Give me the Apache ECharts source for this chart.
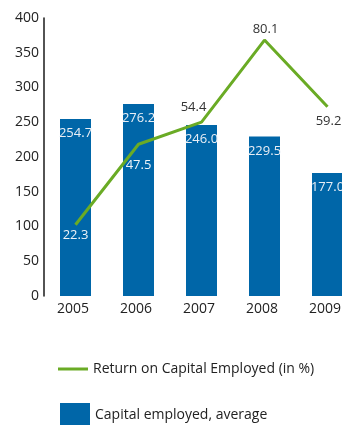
<!DOCTYPE html>
<html>
<head>
<meta charset="utf-8">
<script src="https://cdn.jsdelivr.net/npm/echarts@6/dist/echarts.min.js"></script>
<style>
  html, body { margin: 0; padding: 0; background: #fff; }
  #chart { width: 342px; height: 425px; }
</style>
</head>
<body>
<div id="chart"></div>
<script>
// Capital employed (bars, left axis) and ROCE in % (line, hidden right scale)
const years = ['2005', '2006', '2007', '2008', '2009'];
const capitalEmployed = [254.7, 276.2, 246.0, 229.5, 177.0];
const roce = [22.3, 47.5, 54.4, 80.1, 59.2];
const leftTicks = [0, 50, 100, 150, 200, 250, 300, 350, 400];

const FONT = '"Open Sans", "Noto Sans", sans-serif';
const BLUE = '#0066a8';
const GREEN = '#6aab25';

// label placement around each ROCE point
const roceLabelStyle = [
  { offset: [0, 11], color: '#eef3f8' },
  { offset: [0, 21], color: '#eef3f8' },
  { offset: [-8, -15], color: '#333' },
  { offset: [1, -11], color: '#333' },
  { offset: [1, 14], color: '#333' }
];

const chart = echarts.init(document.getElementById('chart'));
chart.setOption({
  animation: false,
  textStyle: { fontFamily: FONT },
  // plot area runs past the right edge, so the last bar is cut off
  grid: { left: 44, top: 18, width: 315, height: 278, containLabel: false, outerBoundsMode: 'none' },
  legend: [
    {
      data: [{ name: 'Return on Capital Employed (in %)', icon: 'rect' }],
      left: 58, top: 361, padding: 0, itemWidth: 30, itemHeight: 3, itemGap: 6,
      textStyle: { fontSize: 14, color: '#222', fontFamily: FONT, lineHeight: 16 }
    },
    {
      data: [{ name: 'Capital employed, average', icon: 'rect' }],
      left: 60, top: 401, padding: 0, itemWidth: 30, itemHeight: 24, itemGap: 6,
      textStyle: { fontSize: 14, color: '#222', fontFamily: FONT, lineHeight: 16, padding: [12, 0, 0, 0] }
    }
  ],
  xAxis: {
    type: 'category',
    data: years,
    axisLine: { show: false },
    axisTick: { show: false },
    axisLabel: { fontSize: 14, color: '#222', margin: 6, fontFamily: FONT, padding: [0, 5, 0, 0] }
  },
  yAxis: [
    {
      type: 'value',
      min: leftTicks[0],
      max: leftTicks[leftTicks.length - 1],
      interval: 50,
      axisLine: { show: true, lineStyle: { color: '#1a1a1a', width: 1.5 } },
      axisTick: { show: false },
      splitLine: { show: false },
      axisLabel: { fontSize: 14, color: '#222', margin: 5, fontFamily: FONT }
    },
    {
      type: 'value',
      min: 0,
      max: 87,
      show: false,
      splitLine: { show: false }
    }
  ],
  series: [
    {
      name: 'Capital employed, average',
      type: 'bar',
      data: capitalEmployed,
      barWidth: 31,
      itemStyle: { color: BLUE },
      label: {
        show: true,
        position: 'insideTop',
        distance: 8,
        color: '#e8eef5',
        fontSize: 13,
        fontFamily: FONT,
        formatter: p => p.value.toFixed(1)
      }
    },
    {
      name: 'Return on Capital Employed (in %)',
      type: 'line',
      yAxisIndex: 1,
      data: roce.map((v, i) => ({
        value: v,
        label: {
          offset: roceLabelStyle[i].offset,
          color: roceLabelStyle[i].color
        }
      })),
      symbol: 'circle',
      symbolSize: 0.1,
      showSymbol: true,
      lineStyle: { color: GREEN, width: 3 },
      itemStyle: { color: GREEN },
      label: {
        show: true,
        position: 'inside',
        fontSize: 13,
        fontFamily: FONT,
        formatter: p => p.value.toFixed(1)
      },
      z: 3
    }
  ]
});
</script>
</body>
</html>
